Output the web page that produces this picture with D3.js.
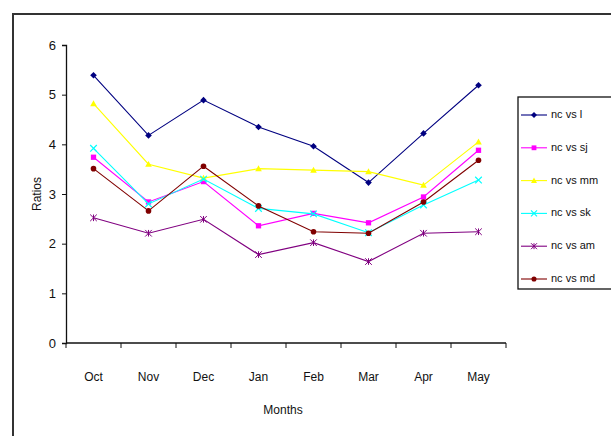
<!DOCTYPE html>
<html>
<head>
<meta charset="utf-8">
<script src="https://cdn.jsdelivr.net/npm/d3@7"></script>
<style>
  html, body { margin: 0; padding: 0; background: #fff; }
  svg { display: block; }
  text { font-family: "Liberation Sans", Arial, sans-serif; fill: #111; }
</style>
</head>
<body>
<svg id="chart" width="611" height="436"></svg>
<script>
// Monthly ratios for each comparison
const months = ["Oct", "Nov", "Dec", "Jan", "Feb", "Mar", "Apr", "May"];
const seriesNames = ["nc vs l", "nc vs sj", "nc vs mm", "nc vs sk", "nc vs am", "nc vs md"];
const seriesColors = ["#000080", "#ff00ff", "#ffff00", "#00ffff", "#800080", "#800000"];
const seriesMarkers = ["diamond", "square", "triangle", "cross", "star", "circle"];
const ncVsL  = [5.39, 4.18, 4.89, 4.35, 3.96, 3.23, 4.22, 5.19];
const ncVsSj = [3.74, 2.84, 3.25, 2.36, 2.61, 2.42, 2.94, 3.88];
const ncVsMm = [4.82, 3.60, 3.32, 3.51, 3.48, 3.45, 3.18, 4.05];
const ncVsSk = [3.92, 2.80, 3.30, 2.71, 2.60, 2.22, 2.78, 3.28];
const ncVsAm = [2.52, 2.21, 2.49, 1.78, 2.02, 1.64, 2.21, 2.24];
const ncVsMd = [3.51, 2.66, 3.56, 2.76, 2.24, 2.21, 2.84, 3.68];
const yTicks = [0, 1, 2, 3, 4, 5, 6];

const seriesValues = [ncVsL, ncVsSj, ncVsMm, ncVsSk, ncVsAm, ncVsMd];
const series = seriesNames.map((name, i) => ({
  name, color: seriesColors[i], marker: seriesMarkers[i], values: seriesValues[i]
}));

const svg = d3.select("#chart");

// Outer chart frame (runs off the right and bottom edges)
svg.append("path")
  .attr("d", "M13,440 L13,14 L615,14")
  .attr("fill", "none").attr("stroke", "#333").attr("stroke-width", 2);

const plot = { left: 66, right: 506, top: 45, bottom: 343 };

const x = d3.scaleBand().domain(months).range([plot.left, plot.right]);
const y = d3.scaleLinear().domain([0, 6]).range([plot.bottom, plot.top]);

// Y axis
const yAxis = svg.append("g")
  .attr("transform", `translate(${plot.left},0)`)
  .call(d3.axisLeft(y).tickValues(yTicks).tickSize(4).tickFormat(d3.format("d")));
yAxis.select(".domain").attr("stroke", "#111").attr("stroke-width", 1.3);
yAxis.selectAll(".tick line").attr("stroke", "#111");
yAxis.selectAll(".tick text").attr("x", -10).style("font-size", "13px")
  .style("font-family", "'Liberation Sans', Arial, sans-serif").attr("fill", "#111");

// X axis with ticks between categories
const xAxis = svg.append("g")
  .attr("transform", `translate(0,${plot.bottom})`)
  .call(d3.axisBottom(x).tickSize(0).tickPadding(29));
xAxis.select(".domain").remove();
xAxis.selectAll(".tick text").style("font-size", "12px")
  .style("font-family", "'Liberation Sans', Arial, sans-serif").attr("fill", "#111");
svg.append("line")
  .attr("x1", plot.left).attr("x2", plot.right)
  .attr("y1", plot.bottom).attr("y2", plot.bottom)
  .attr("stroke", "#111").attr("stroke-width", 1.3);
const boundaries = months.map(m => x(m)).concat([x(months[months.length - 1]) + x.bandwidth()]);
svg.append("g").selectAll("line").data(boundaries).join("line")
  .attr("x1", d => d).attr("x2", d => d)
  .attr("y1", plot.bottom).attr("y2", plot.bottom + 5)
  .attr("stroke", "#111");

// Axis titles
svg.append("text")
  .attr("transform", `translate(38,${(plot.top + plot.bottom) / 2}) rotate(-90)`)
  .attr("text-anchor", "middle").attr("dominant-baseline", "middle")
  .style("font-size", "12px").text("Ratios");
svg.append("text")
  .attr("x", (plot.left + plot.right) / 2 - 3).attr("y", 414)
  .attr("text-anchor", "middle")
  .style("font-size", "12px").text("Months");

// Marker shapes
function drawMarker(g, type, color, size) {
  const s = size;
  if (type === "diamond") {
    g.append("path").attr("d", `M0,${-s} L${s},0 L0,${s} L${-s},0 Z`).attr("fill", color);
  } else if (type === "square") {
    g.append("rect").attr("x", -s * 0.8).attr("y", -s * 0.8)
      .attr("width", s * 1.6).attr("height", s * 1.6).attr("fill", color);
  } else if (type === "triangle") {
    g.append("path").attr("d", `M0,${-s} L${s},${s * 0.8} L${-s},${s * 0.8} Z`).attr("fill", color);
  } else if (type === "cross") {
    g.append("path").attr("d", `M${-s},${-s} L${s},${s} M${-s},${s} L${s},${-s}`)
      .attr("stroke", color).attr("stroke-width", 1.2);
  } else if (type === "star") {
    g.append("path").attr("d", `M${-s},${-s} L${s},${s} M${-s},${s} L${s},${-s} M0,${-s} L0,${s}`)
      .attr("stroke", color).attr("stroke-width", 1);
  } else if (type === "circle") {
    g.append("circle").attr("r", s * 0.85).attr("fill", color);
  }
}

const line = d3.line()
  .x((d, i) => x(months[i]) + x.bandwidth() / 2)
  .y(d => y(d));

// Lines and markers for each series
const seriesG = svg.append("g").selectAll("g").data(series).join("g");
seriesG.append("path")
  .attr("d", d => line(d.values))
  .attr("fill", "none")
  .attr("stroke", d => d.color)
  .attr("stroke-width", 1.1);
seriesG.each(function (s) {
  const g = d3.select(this);
  s.values.forEach((v, i) => {
    const mg = g.append("g")
      .attr("transform", `translate(${x(months[i]) + x.bandwidth() / 2},${y(v)})`);
    drawMarker(mg, s.marker, s.color, 3.3);
  });
});

// Legend
const legend = svg.append("g");
legend.append("rect")
  .attr("x", 518).attr("y", 97).attr("width", 110).attr("height", 192)
  .attr("fill", "#fff").attr("stroke", "#111").attr("stroke-width", 1.3);
const rowY = d3.scalePoint().domain(seriesNames).range([115, 279]);
series.forEach(s => {
  const ly = rowY(s.name);
  legend.append("line")
    .attr("x1", 521).attr("x2", 547).attr("y1", ly).attr("y2", ly)
    .attr("stroke", s.color).attr("stroke-width", 1.1);
  const mg = legend.append("g").attr("transform", `translate(534,${ly})`);
  drawMarker(mg, s.marker, s.color, 3);
  legend.append("text")
    .attr("x", 551).attr("y", ly).attr("dominant-baseline", "middle")
    .style("font-size", "11px").text(s.name);
});
</script>
</body>
</html>
